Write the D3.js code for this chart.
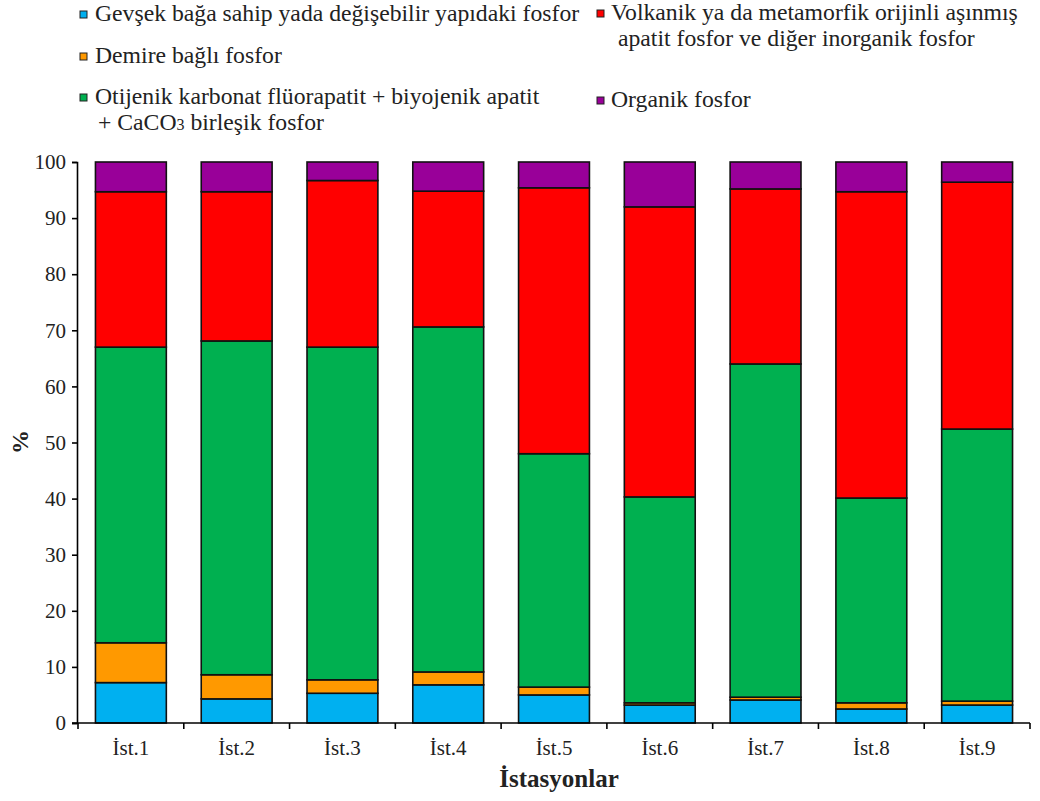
<!DOCTYPE html>
<html>
<head>
<meta charset="utf-8">
<script src="https://cdn.jsdelivr.net/npm/d3@7"></script>
<style>
  html, body { margin: 0; padding: 0; background: #fff; }
</style>
</head>
<body>
<svg id="chart" width="1040" height="801"></svg>
<script>
// Stations along the x axis
const stations = ["İst.1", "İst.2", "İst.3", "İst.4", "İst.5", "İst.6", "İst.7", "İst.8", "İst.9"];

// Phosphorus fractions per station (% of total)
const gevsek    = [7.2, 4.3, 5.3, 6.8, 5.0, 3.2, 4.1, 2.5, 3.2];
const demire    = [7.1, 4.3, 2.4, 2.3, 1.4, 0.4, 0.5, 1.1, 0.7];
const otijenik  = [52.7, 59.5, 59.3, 61.5, 41.6, 36.7, 59.4, 36.5, 48.5];
const volkanik  = [27.7, 26.6, 29.7, 24.2, 47.4, 51.7, 31.2, 54.6, 44.0];
const organik   = [5.3, 5.3, 3.3, 5.2, 4.6, 8.0, 4.8, 5.3, 3.6];

const yTicks = [0, 10, 20, 30, 40, 50, 60, 70, 80, 90, 100];

const seriesKeys = ["gevsek", "demire", "otijenik", "volkanik", "organik"];
const seriesColors = ["#00B0F0", "#FF9900", "#00B050", "#FF0000", "#990099"];

const FONT = "Liberation Serif";
const TEXT = "#222";

const table = stations.map((s, i) => ({
  station: s,
  gevsek: gevsek[i],
  demire: demire[i],
  otijenik: otijenik[i],
  volkanik: volkanik[i],
  organik: organik[i]
}));

const svg = d3.select("#chart");
const margin = { left: 77, right: 8, top: 162, bottom: 78 };
const W = 1040, H = 801;

const x = d3.scaleBand()
  .domain(stations)
  .range([margin.left + 1, W - margin.right - 2])
  .paddingInner(0.33)
  .paddingOuter(0.165);

const y = d3.scaleLinear()
  .domain([0, 100])
  .range([H - margin.bottom, margin.top]);

const color = d3.scaleOrdinal().domain(seriesKeys).range(seriesColors);

const stacked = d3.stack().keys(seriesKeys)(table);

// Bars
svg.append("g")
  .selectAll("g")
  .data(stacked)
  .join("g")
  .attr("fill", d => color(d.key))
  .selectAll("rect")
  .data(d => d)
  .join("rect")
  .attr("x", d => x(d.data.station))
  .attr("y", d => y(d[1]))
  .attr("width", x.bandwidth())
  .attr("height", d => y(d[0]) - y(d[1]))
  .attr("stroke", "#111")
  .attr("stroke-width", 1.6);

// Y axis
const yAxis = svg.append("g")
  .attr("transform", `translate(${margin.left},0)`)
  .call(d3.axisLeft(y).tickValues(yTicks).tickSize(5).tickPadding(6).tickFormat(d3.format("d")));
yAxis.select(".domain").attr("stroke", "#000").attr("stroke-width", 1.6);
yAxis.selectAll(".tick line").attr("stroke", "#000").attr("stroke-width", 1.6);
yAxis.selectAll(".tick text")
  .style("font-family", FONT)
  .style("font-size", "21px")
  .attr("fill", TEXT);

// X axis: baseline with separator ticks between the bands
const xAxisY = y(0);
const xg = svg.append("g");
const step = x.step();
const x0 = x(stations[0]) - x.paddingOuter() * step;
xg.append("line")
  .attr("x1", margin.left - 5).attr("x2", x0 + step * stations.length)
  .attr("y1", xAxisY).attr("y2", xAxisY)
  .attr("stroke", "#000").attr("stroke-width", 1.6);
xg.selectAll("line.sep")
  .data(d3.range(stations.length + 1))
  .join("line")
  .attr("class", "sep")
  .attr("x1", i => x0 + i * step).attr("x2", i => x0 + i * step)
  .attr("y1", xAxisY).attr("y2", xAxisY + 6)
  .attr("stroke", "#000").attr("stroke-width", 1.6);
xg.selectAll("text.lab")
  .data(stations)
  .join("text")
  .attr("class", "lab")
  .attr("x", d => x(d) + x.bandwidth() / 2)
  .attr("y", xAxisY + 32)
  .attr("text-anchor", "middle")
  .style("font-family", FONT)
  .style("font-size", "21px")
  .attr("fill", TEXT)
  .text(d => d);

// Axis titles
svg.append("text")
  .attr("x", 559).attr("y", 787)
  .attr("text-anchor", "middle")
  .style("font-family", FONT)
  .style("font-size", "25px").style("font-weight", "bold")
  .attr("fill", TEXT)
  .text("İstasyonlar");

svg.append("text")
  .attr("transform", "translate(28,442) rotate(-90)")
  .attr("text-anchor", "middle")
  .style("font-family", FONT)
  .style("font-size", "24px").style("font-weight", "bold")
  .attr("fill", TEXT)
  .text("%");

// Legend
const legendItems = [
  { key: "gevsek",   mx: 80,  tx: 95,  lines: [["Gevşek bağa sahip yada değişebilir yapıdaki fosfor"]], y: 21 },
  { key: "volkanik", mx: 597, tx: 611, lines: [["Volkanik ya da metamorfik orijinli aşınmış"], ["apatit fosfor ve diğer inorganik fosfor"]], y: 20, indent: 7 },
  { key: "demire",   mx: 80,  tx: 95,  lines: [["Demire bağlı fosfor"]], y: 63 },
  { key: "otijenik", mx: 80,  tx: 95,  lines: [["Otijenik karbonat flüorapatit + biyojenik apatit"], ["+ CaCO", "3", " birleşik fosfor"]], y: 104, indent: 3 },
  { key: "organik",  mx: 597, tx: 611, lines: [["Organik fosfor"]], y: 107 }
];

const lg = svg.append("g");
legendItems.forEach(item => {
  lg.append("rect")
    .attr("x", item.mx).attr("y", item.y - 10)
    .attr("width", 7).attr("height", 7)
    .attr("fill", color(item.key))
    .attr("stroke", "#222").attr("stroke-width", 1);
  item.lines.forEach((parts, li) => {
    const t = lg.append("text")
      .attr("x", item.tx + (li > 0 ? (item.indent || 0) : 0))
      .attr("y", item.y + li * 26)
      .attr("fill", TEXT)
      .style("font-family", FONT)
      .style("font-size", "23.7px");
    parts.forEach((p, pi) => {
      const ts = t.append("tspan").text(p);
      if (parts.length === 3 && pi === 1) ts.style("font-size", "16px");
    });
  });
});
</script>
</body>
</html>
